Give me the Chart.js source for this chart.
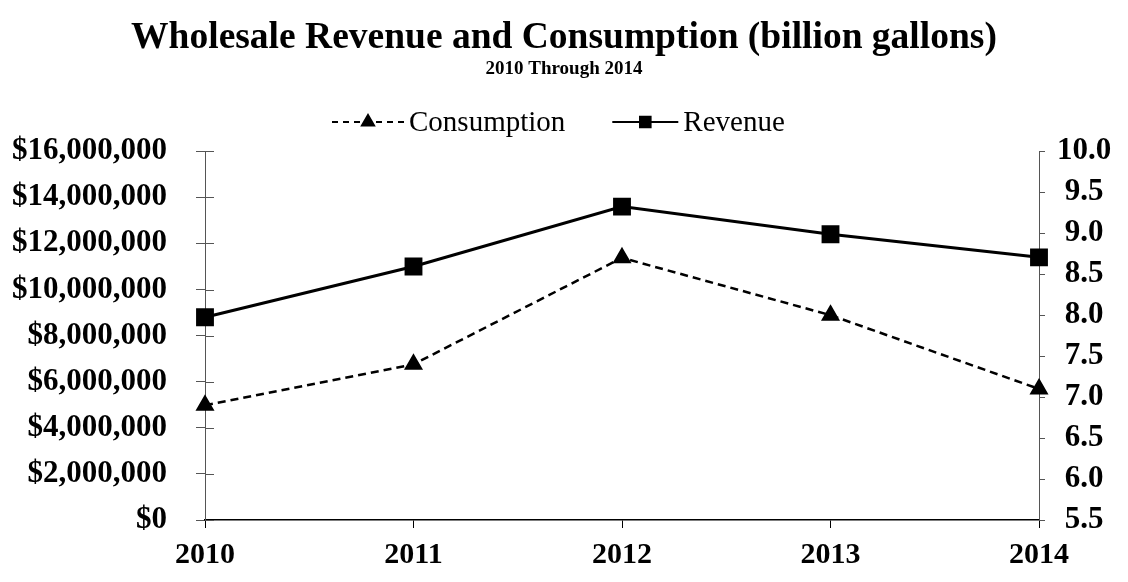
<!DOCTYPE html>
<html>
<head>
<meta charset="utf-8">
<script src="https://cdn.jsdelivr.net/npm/chart.js@4"></script>
<style>
  html, body { margin: 0; padding: 0; background: #fff; }
  #wrap { width: 1128px; height: 582px; }
</style>
</head>
<body>
<div id="wrap"><canvas id="c" width="1128" height="582"></canvas></div>
<script>
const years = ['2010', '2011', '2012', '2013', '2014'];
const revenue = [8800000, 11000000, 13600000, 12400000, 11400000];
const consumption = [6.9, 7.4, 8.7, 8.0, 7.1];
const seriesNames = ['Consumption', 'Revenue'];
const titleText = 'Wholesale Revenue and Consumption (billion gallons)';
const subtitleText = '2010 Through 2014';

const FONT = "'Liberation Serif', 'Times New Roman', serif";

const innerTicks = {
  id: 'innerTicks',
  afterDraw(chart) {
    const ctx = chart.ctx;
    const s = chart.scales.y;
    ctx.save();
    ctx.strokeStyle = '#555';
    ctx.lineWidth = 1;
    s.ticks.forEach(t => {
      const y = Math.round(s.getPixelForValue(t.value)) + 0.5;
      ctx.beginPath();
      ctx.moveTo(s.right, y);
      ctx.lineTo(s.right + 9, y);
      ctx.stroke();
    });
    ctx.restore();
  }
};

const legendMarkerRadius = [7, 7.5];

const customLegend = {
  id: 'customLegend',
  afterDraw(chart) {
    const ctx = chart.ctx;
    const y = 122;
    ctx.save();
    ctx.font = "29px " + FONT;
    ctx.textBaseline = 'middle';
    let x = 332;
    chart.data.datasets.forEach((ds, i) => {
      const sw = i === 0 ? 72 : 66;
      ctx.strokeStyle = ds.borderColor;
      ctx.lineWidth = 2;
      ctx.setLineDash(i === 0 ? [6, 5] : []);
      ctx.beginPath();
      ctx.moveTo(x, y);
      ctx.lineTo(x + sw, y);
      ctx.stroke();
      ctx.setLineDash([]);
      ctx.fillStyle = '#000';
      Chart.helpers.drawPoint(ctx, {
        pointStyle: ds.pointStyle,
        radius: legendMarkerRadius[i],
        borderWidth: 1,
        rotation: 0
      }, x + sw / 2, y);
      ctx.fillStyle = '#000';
      ctx.fillText(ds.label, x + sw + 5, y + 1);
      x += sw + 5 + ctx.measureText(ds.label).width + 47;
    });
    ctx.restore();
  }
};

new Chart(document.getElementById('c'), {
  type: 'line',
  data: {
    labels: years,
    datasets: [
      {
        label: seriesNames[0],
        data: consumption,
        yAxisID: 'y1',
        borderColor: '#000',
        backgroundColor: '#000',
        borderWidth: 2.5,
        borderDash: [8, 5],
        pointStyle: 'triangle',
        pointRadius: 8.5,
        pointHoverRadius: 8.5,
        pointBackgroundColor: '#000',
        pointBorderColor: '#000',
        tension: 0,
        clip: false
      },
      {
        label: seriesNames[1],
        data: revenue,
        yAxisID: 'y',
        borderColor: '#000',
        backgroundColor: '#000',
        borderWidth: 3,
        pointStyle: 'rect',
        pointRadius: 10.5,
        pointHoverRadius: 10.5,
        pointBackgroundColor: '#000',
        pointBorderColor: '#000',
        tension: 0,
        clip: false
      }
    ]
  },
  options: {
    responsive: false,
    animation: false,
    devicePixelRatio: 1,
    layout: { padding: { left: 0, right: 0, top: 0, bottom: 0 } },
    plugins: {
      legend: { display: false },
      tooltip: { enabled: false },
      title: {
        display: true,
        text: titleText,
        color: '#000',
        font: { family: FONT, size: 37.5, weight: 'bold', lineHeight: 1 },
        padding: { top: 20, bottom: 0 }
      },
      subtitle: {
        display: true,
        text: subtitleText,
        color: '#000',
        font: { family: FONT, size: 19, weight: 'bold', lineHeight: 1.2 },
        padding: { top: 0, bottom: 71 }
      }
    },
    scales: {
      x: {
        type: 'category',
        offset: false,
        grid: { display: true, drawOnChartArea: false, drawTicks: true, tickLength: 8, color: '#000', offset: false },
        border: { display: true, color: '#000', width: 1.5 },
        ticks: { color: '#000', font: { family: FONT, size: 30, weight: 'bold' }, padding: 9, maxRotation: 0, autoSkip: false },
        afterFit(s) { s.height = 62; }
      },
      y: {
        position: 'left',
        min: 0,
        max: 16000000,
        grid: { drawOnChartArea: false, drawTicks: true, tickLength: 9, color: '#555' },
        border: { display: true, color: '#555', width: 1 },
        ticks: {
          stepSize: 2000000,
          color: '#000',
          padding: 29,
          font: { family: FONT, size: 31, weight: 'bold' },
          callback: v => '$' + Number(v).toLocaleString('en-US')
        },
        afterFit(s) { s.width = 205; }
      },
      y1: {
        position: 'right',
        min: 5.5,
        max: 10,
        grid: { drawOnChartArea: false, drawTicks: true, tickLength: 6, color: '#555' },
        border: { display: true, color: '#555', width: 1 },
        ticks: {
          stepSize: 0.5,
          color: '#000',
          padding: 12,
          crossAlign: 'center',
          font: { family: FONT, size: 31, weight: 'bold' },
          callback: v => Number(v).toFixed(1)
        },
        afterFit(s) { s.width = 89; }
      }
    }
  },
  plugins: [innerTicks, customLegend]
});
</script>
</body>
</html>
